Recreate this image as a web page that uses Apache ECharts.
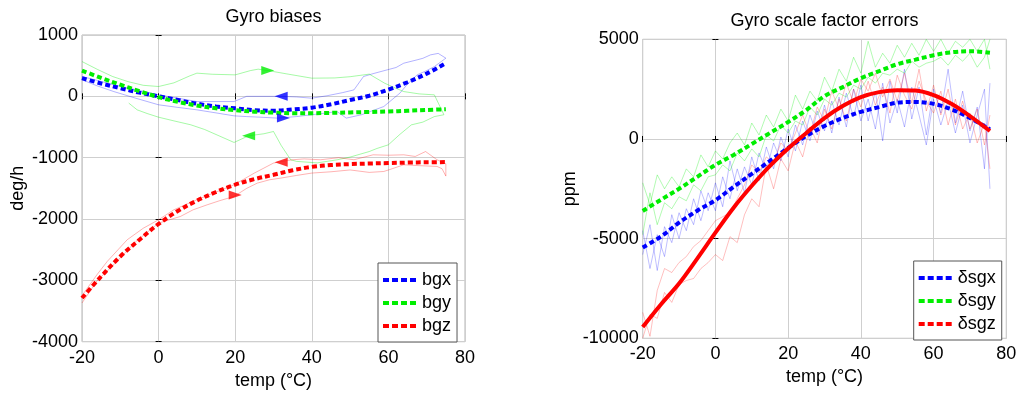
<!DOCTYPE html>
<html><head><meta charset="utf-8">
<script src="https://cdn.jsdelivr.net/npm/echarts@6/dist/echarts.min.js"></script>
<style>html,body{margin:0;padding:0;background:#fff}#c{width:1024px;height:396px}</style>
</head><body><div id="c"></div>
<script>
// ---------- Left panel: Gyro biases (deg/h) ----------
const tempFitL = [-20,-15,-10,-5,0,5,10,15,20,25,30,35,40,45,50,55,60,65,70,75];
const bgxFit = [296,210,133,60,0,-60,-120,-165,-195,-225,-235,-215,-185,-130,-60,10,110,230,370,540];
const bgyFit = [420,300,190,85,-13,-90,-150,-195,-225,-250,-265,-275,-275,-270,-262,-255,-247,-235,-222,-210];
const bgzFit = [-3288,-2935,-2610,-2337,-2080,-1870,-1700,-1560,-1440,-1350,-1279,-1205,-1150,-1120,-1105,-1095,-1088,-1080,-1075,-1072];

// raw hysteresis loops [temp, value] (heating branch then cooling branch)
const bgxRaw = [[-20,270],[-16,170],[-11.7,78],[-6,-30],[0,-138],[5,-180],[10,-220],[15,-270],[19.7,-318],[23,-330],[26.6,-340],[31,-355],[36,-330],[40,-300],[44,-270],[46.6,-248],[49,-355],[53,-300],[56,-230],[58.8,-166],[63,52],[65,200],[67.5,350],[70,420],[72,485],[75,622],
  [74.5,620],[73,700],[71,676],[69,620],[67.5,595],[64,540],[62,470],[59.7,432],[56,370],[53.5,323],[51,105],[48,60],[44,10],[40,-30],[36,-10],[32,0],[30,0],[27,0],[23,0],[19.7,-85],[15,-85],[10,-85],[5,-30],[0,24],[-6,110],[-11.7,187],[-16,260],[-20,323]];
const bgyRaw = [[-20,567],[-16,440],[-12,323],[-8,240],[-4,180],[0,160],[4,220],[8,330],[10,378],[14,360],[20,350],[24,420],[26,443],[29,415],[34,360],[40,296],[46,300],[50,320],[55,362],[59,215],[62,130],[64,78],[68,40],[72,24],[74.5,-300],
  [72,-330],[69,-420],[66,-465],[63,-620],[60,-790],[57,-850],[55,-900],[50,-990],[46.6,-1035],[41.4,-1085],[36,-1060],[34.5,-1035],[32,-800],[30,-573],[27.5,-610],[23.5,-643],[19.7,-752],[16,-650],[12,-540],[8.4,-464],[4,-400],[0,-340],[-3,-280],[-5.6,-220],[-7.8,-110]];
const bgzRaw = [[-20,-3369],[-16,-3000],[-11.7,-2745],[-6,-2370],[0,-2066],[5.7,-1958],[9,-1850],[12.7,-1768],[16,-1700],[19.7,-1632],[23,-1500],[25.8,-1414],[29,-1360],[31.9,-1333],[36,-1290],[40,-1251],[45,-1230],[50,-1200],[55,-1240],[58.8,-1225],[61,-1180],[64,-1116],[68,-1130],[72.7,-1143],[74,-1180],[75,-1300],
  [75,-1100],[72.7,-1034],[69.7,-900],[67,-980],[64,-953],[60,-960],[56,-953],[51,-1034],[47,-1000],[42.3,-1034],[38,-1020],[35,-1034],[32,-1062],[30,-1088],[25,-1251],[19.7,-1442],[15,-1560],[10,-1686],[4,-1849],[0,-2012],[-4,-2150],[-8.2,-2338],[-13.4,-2691],[-16,-2900],[-19.5,-3206]];

// direction arrows [temp, value, direction]
const bgxArrows = [[32,0,'left'],[32.6,-355,'right']];
const bgyArrows = [[28.5,420,'right'],[23.5,-643,'left']];
const bgzArrows = [[32,-1075,'left'],[20,-1610,'right']];

// ---------- Right panel: Gyro scale factor errors (ppm) ----------
const tempFitR = [-20,-15,-10,-5,0,5,10,15,20,25,30,35,40,45,50,55,60,65,70,75.5];
const dsgxFit = [-5447,-4900,-4200,-3600,-3074,-2400,-1750,-1100,-450,150,650,1050,1360,1600,1820,1860,1760,1480,1050,480];
const dsgyFit = [-3611,-3050,-2500,-1900,-1300,-800,-250,300,850,1450,2150,2600,3050,3400,3750,3980,4200,4350,4400,4330];
const dsgzFit = [-9430,-8300,-7250,-6000,-4700,-3450,-2350,-1350,-480,300,1050,1650,2100,2350,2450,2430,2200,1750,1150,400];

const tempRawR = [-20,-18,-16,-14,-12,-10,-8,-6,-4,-2,0,2,4,6,8,10,12,14,16,18,20,22,24,26,28,30,32,34,36,38,40,42,44,46,48,50,52,54,56,58,60,62,64,66,68,70,72,74,75.5];
const dsgxRawA = [-4600,-6500,-4800,-5900,-3800,-5000,-3500,-4300,-2600,-3600,-2200,-3400,-1100,-2600,-1400,-2300,-700,-1600,-200,-1100,500,-600,900,-100,1400,400,1900,700,2300,1100,2700,900,2400,-100,2900,1300,3500,1000,2600,200,2500,1300,3500,800,2400,400,1600,-1500,2800];
const dsgxRawB = [-5800,-4300,-6600,-4400,-5200,-3700,-4600,-3000,-4100,-2700,-3600,-1900,-3000,-1500,-2700,-900,-2100,-400,-1500,100,-900,700,-300,1200,200,1700,300,2100,600,2500,900,2000,500,2800,800,2000,600,2600,1200,-300,2000,700,1900,300,1700,-200,1200,2500,-2500];
const dsgyRawA = [-2200,-3300,-1800,-2500,-1900,-2400,-1500,-1900,-800,-1400,-600,-1000,-200,300,-300,800,200,1200,600,1500,900,2200,1500,2400,1900,3100,2400,3500,2900,4100,3300,4900,3600,4300,3800,4700,4100,4800,4200,5000,4400,5000,4300,4900,4600,5000,4400,5000,3500];
const dsgyRawB = [-4800,-2700,-4300,-3200,-3500,-2900,-3100,-2300,-2600,-1900,-1800,-1300,-1600,-700,-1100,-500,-900,200,-100,700,300,900,700,1600,1200,2000,1700,2300,2100,2700,2500,3100,2800,3300,3200,3500,3300,3900,3600,3800,3900,4100,3700,4200,3900,4300,3600,4100,5000];
const dsgzRawA = [-8700,-9900,-7600,-6500,-6700,-6200,-5900,-5400,-5100,-4600,-4100,-3900,-3700,-3000,-2300,-1300,-1700,-900,-1200,-200,-600,300,1200,200,1600,900,2400,1500,2800,1800,3000,2400,3300,2100,3000,1900,3300,1800,3500,1400,2700,1200,2500,700,1900,500,1500,-300,1200];
const dsgzRawB = [-10000,-8800,-9000,-7700,-8200,-7300,-7100,-7000,-6500,-6200,-5800,-6100,-4900,-5200,-3800,-3000,-3400,-1300,-2500,-1000,-1600,-100,-900,600,-200,1500,500,2000,900,2500,1600,2900,1700,2600,1300,3200,2200,1500,2900,1900,1300,2400,700,2000,500,1300,-200,800,-1500];

// ---------- chart ----------
const FONT = 'Liberation Sans, Arial, Helvetica, sans-serif';
const BLUE = '#0000ff', GREEN = '#00ee00', RED = '#ff0000';
const zip = (xs, ys) => xs.map((x, i) => [x, ys[i]]);
const plain = v => String(v);
const DASH_ICON = 'path://M0,0h6v4h-6z M9,0h6v4h-6z M18,0h6v4h-6z M27,0h6v4h-6z';

function mainX(gi, name, gap) {
  return { type:'value', gridIndex:gi, min:-20, max:80, interval:20, position:'bottom',
    name:name, nameLocation:'middle', nameGap:gap,
    nameTextStyle:{fontFamily:FONT, fontSize:18, color:'#000'},
    axisLine:{show:false}, axisTick:{show:true, inside:true, length:3, lineStyle:{color:'#000'}},
    axisLabel:{fontFamily:FONT, fontSize:18, color:'#000', margin:7, formatter:plain},
    splitLine:{show:true, lineStyle:{color:'#cfcfcf', width:1}} };
}
function mainY(gi, min, max, interval, name, gap) {
  return { type:'value', gridIndex:gi, min:min, max:max, interval:interval, position:'left',
    name:name, nameLocation:'middle', nameGap:gap, nameRotate:90,
    nameTextStyle:{fontFamily:FONT, fontSize:18, color:'#000'},
    axisLine:{show:false}, axisTick:{show:true, inside:true, length:3, lineStyle:{color:'#000'}},
    axisLabel:{fontFamily:FONT, fontSize:18, color:'#000', margin:4, formatter:plain},
    splitLine:{show:true, lineStyle:{color:'#cfcfcf', width:1}} };
}
function topX(gi, title, gap) {
  return { type:'value', gridIndex:gi, min:-20, max:80, interval:20, position:'top',
    name:title, nameLocation:'middle', nameGap:gap,
    nameTextStyle:{fontFamily:FONT, fontSize:18, color:'#000'},
    axisLine:{show:false}, axisTick:{show:true, inside:true, length:3, lineStyle:{color:'#000'}},
    axisLabel:{show:false}, splitLine:{show:false} };
}
function rightY(gi, min, max, interval) {
  return { type:'value', gridIndex:gi, min:min, max:max, interval:interval, position:'right',
    axisLine:{show:false}, axisTick:{show:true, inside:true, length:3, lineStyle:{color:'#000'}},
    axisLabel:{show:false}, splitLine:{show:false} };
}
function raw(name, data, color, xi, op) {
  return { name:name, type:'line', xAxisIndex:xi, yAxisIndex:xi, data:data, symbol:'none',
    silent:true, z:1, lineStyle:{color:color, width:1, opacity:op}, itemStyle:{color:color} };
}
function fit(name, data, color, xi, solid) {
  return { name:name, type:'line', xAxisIndex:xi, yAxisIndex:xi, data:data, symbol:'none', z:3, smooth:0.35,
    lineStyle:{color:color, width:4, type: solid ? 'solid' : [5,3]}, itemStyle:{color:color} };
}
function arrows(name, list, color) {
  return { name:name, type:'scatter', xAxisIndex:0, yAxisIndex:0, symbol:'triangle', symbolSize:[9,13], z:5,
    itemStyle:{color:color},
    data:list.map(a => ({ value:[a[0], a[1]], symbolRotate: a[2] === 'left' ? 90 : -90 })) };
}
function legendItem(name, color) {
  return { name:name, icon:DASH_ICON, itemStyle:{color:color, opacity:1} };
}
function legend(left, top, names, colors) {
  return { left:left, top:top, orient:'vertical', itemWidth:35, itemHeight:4, itemGap:5, padding:[8,6,7,5],
    backgroundColor:'#fff', borderColor:'#555', borderWidth:1, borderRadius:0,
    textStyle:{fontFamily:FONT, fontSize:18, color:'#000'},
    data:names.map((n, i) => legendItem(n, colors[i])) };
}

const chart = echarts.init(document.getElementById('c'), null, {renderer:'canvas'});
chart.setOption({
  animation:false,
  backgroundColor:'#fff',
  grid:[
    {left:82, top:35, width:383, height:306.7, show:true, borderColor:'#b4b4b4', borderWidth:1, backgroundColor:'transparent'},
    {left:642.7, top:39.3, width:363.6, height:299, show:true, borderColor:'#b4b4b4', borderWidth:1, backgroundColor:'transparent'}
  ],
  xAxis:[ mainX(0,'temp (°C)',26), mainX(1,'temp (°C)',24), topX(0,'Gyro biases',9), topX(1,'Gyro scale factor errors',9) ],
  yAxis:[ mainY(0,-4000,1000,1000,'deg/h',55), mainY(1,-10000,5000,5000,'ppm',62), rightY(0,-4000,1000,1000), rightY(1,-10000,5000,5000) ],
  legend:[
    legend(378, 263, ['bgx','bgy','bgz'], [BLUE, GREEN, RED]),
    legend(913.7, 261, ['δsgx','δsgy','δsgz'], [BLUE, GREEN, RED])
  ],
  series:[
    raw('bgx raw', bgxRaw, BLUE, 0, 0.3),
    raw('bgy raw', bgyRaw, GREEN, 0, 0.35),
    raw('bgz raw', bgzRaw, RED, 0, 0.3),
    fit('bgx', zip(tempFitL, bgxFit), BLUE, 0),
    fit('bgy', zip(tempFitL, bgyFit), GREEN, 0),
    fit('bgz', zip(tempFitL, bgzFit), RED, 0),
    arrows('bgx dir', bgxArrows, BLUE),
    arrows('bgy dir', bgyArrows, GREEN),
    arrows('bgz dir', bgzArrows, RED),
    raw('δsgx raw A', zip(tempRawR, dsgxRawA), BLUE, 1, 0.25),
    raw('δsgx raw B', zip(tempRawR, dsgxRawB), BLUE, 1, 0.25),
    raw('δsgy raw A', zip(tempRawR, dsgyRawA), GREEN, 1, 0.3),
    raw('δsgy raw B', zip(tempRawR, dsgyRawB), GREEN, 1, 0.3),
    raw('δsgz raw A', zip(tempRawR, dsgzRawA), RED, 1, 0.25),
    raw('δsgz raw B', zip(tempRawR, dsgzRawB), RED, 1, 0.25),
    fit('δsgx', zip(tempFitR, dsgxFit), BLUE, 1),
    fit('δsgy', zip(tempFitR, dsgyFit), GREEN, 1),
    fit('δsgz', zip(tempFitR, dsgzFit), RED, 1, true)
  ]
});
</script></body></html>
